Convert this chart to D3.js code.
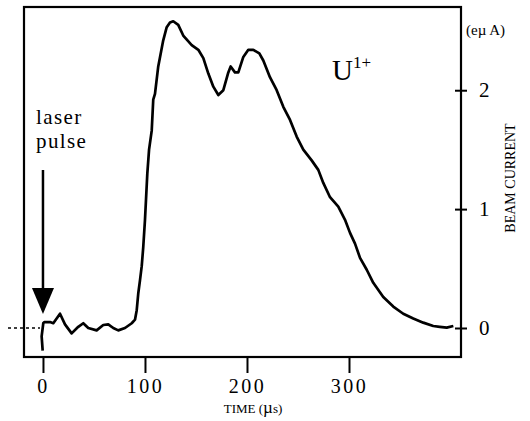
<!DOCTYPE html>
<meta charset="utf-8">
<script src="https://cdn.jsdelivr.net/npm/d3@7"></script>
<style>
body { margin: 0; background: #fff; }
</style>
<svg class="chart" width="530" height="421" font-family="Liberation Serif"></svg>
<script>

// beam current trace
var timeUs = [-0.3, -1.3, 0.3, 1.3, 6.9, 10.1, 16.7, 21.6, 28.1, 34.6, 39.5, 44.4, 52.6, 59.1, 64, 68.9, 73.8, 80.4, 87, 90.2, 91.9, 93.4, 95.1, 96.8, 98.3, 100, 101, 102.3, 104, 106.6, 108.1, 109.8, 113, 117.9, 121.3, 124.5, 127.7, 132.6, 137.5, 145.8, 152.3, 157.2, 162.1, 167, 171.9, 176.8, 181.7, 184, 188.2, 191.5, 196.4, 201.3, 206.2, 212.1, 216, 222.5, 229.1, 235.6, 242.2, 248.7, 255.2, 263.4, 269.9, 274.8, 281.4, 289.5, 296.1, 301, 305.9, 310.8, 317.4, 323.8, 333.6, 343.4, 353.2, 363, 372.8, 382.6, 389, 395.8, 402.3];
var currentEuA = [-0.19, -0.07, 0.04, 0.05, 0.05, 0.04, 0.12, 0.03, -0.045, 0.01, 0.04, 0.0, -0.02, 0.025, 0.03, 0.0, -0.02, 0.0, 0.04, 0.07, 0.15, 0.29, 0.40, 0.52, 0.68, 0.91, 1.08, 1.30, 1.50, 1.66, 1.92, 1.97, 2.20, 2.42, 2.53, 2.57, 2.58, 2.55, 2.46, 2.38, 2.34, 2.27, 2.14, 2.03, 1.96, 2.0, 2.15, 2.20, 2.15, 2.15, 2.28, 2.34, 2.34, 2.31, 2.25, 2.11, 2.0, 1.86, 1.75, 1.61, 1.50, 1.41, 1.33, 1.22, 1.10, 1.02, 0.91, 0.80, 0.71, 0.59, 0.49, 0.38, 0.26, 0.18, 0.12, 0.08, 0.045, 0.017, 0.01, 0.003, 0.017];

var timeTicks = [0, 100, 200, 300];
var currentTicks = [0, 1, 2];
var laserTime = 0;

var serif = "Liberation Serif";
var svg = d3.select(".chart");

var x = d3.scaleLinear().domain([-18.6, 409.8]).range([24, 461]);
var y = d3.scaleLinear().domain([-0.244, 2.70]).range([357, 7]);

// frame
svg.append("rect")
  .attr("x", x.range()[0]).attr("y", y.range()[1])
  .attr("width", x.range()[1] - x.range()[0])
  .attr("height", y.range()[0] - y.range()[1])
  .attr("fill", "none").attr("stroke", "#000").attr("stroke-width", 2.2);

// bottom axis
var xAxis = svg.append("g")
  .attr("transform", "translate(0," + y.range()[0] + ")")
  .call(d3.axisBottom(x).tickValues(timeTicks).tickFormat(d3.format("d")).tickSize(16).tickSizeOuter(0).tickPadding(6));
xAxis.attr("font-family", serif);
xAxis.select(".domain").remove();
xAxis.selectAll("line").attr("stroke", "#000").attr("stroke-width", 2);
xAxis.selectAll("text")
  .attr("font-family", serif)
  .attr("font-size", 20).attr("letter-spacing", 2.5).attr("fill", "#000");

// right axis, ticks crossing the frame line
var yAxis = svg.append("g")
  .attr("transform", "translate(" + x.range()[1] + ",0)")
  .call(d3.axisRight(y).tickValues(currentTicks).tickFormat(d3.format("d")).tickSize(6).tickSizeOuter(0).tickPadding(12));
yAxis.attr("font-family", serif);
yAxis.select(".domain").remove();
yAxis.selectAll("line").attr("x1", -6).attr("stroke", "#000").attr("stroke-width", 2);
yAxis.selectAll("text")
  .attr("font-family", serif)
  .attr("font-size", 21).attr("fill", "#000");

// dotted zero line left of the frame
svg.append("line")
  .attr("x1", 8).attr("x2", x(laserTime) - 3)
  .attr("y1", y(0)).attr("y2", y(0))
  .attr("stroke", "#000").attr("stroke-width", 1.5)
  .attr("stroke-dasharray", "3,3");

// trace
var line = d3.line()
  .x(function(d, i) { return x(timeUs[i]); })
  .y(function(d) { return y(d); });

svg.append("path")
  .datum(currentEuA)
  .attr("d", line)
  .attr("fill", "none")
  .attr("stroke", "#000")
  .attr("stroke-width", 2.7)
  .attr("stroke-linejoin", "round");

// laser pulse arrow
var ax = x(laserTime);
svg.append("line")
  .attr("x1", ax).attr("x2", ax).attr("y1", 170).attr("y2", 292)
  .attr("stroke", "#000").attr("stroke-width", 2.5);
svg.append("path")
  .attr("d", "M" + (ax - 11) + ",288 L" + (ax + 11) + ",288 L" + ax + ",314 Z")
  .attr("fill", "#000");

function label(xp, yp, size, str) {
  return svg.append("text")
    .attr("x", xp).attr("y", yp)
    .attr("font-family", serif)
    .attr("font-size", size)
    .text(str);
}

label(36, 124, 21, "laser").attr("letter-spacing", 1.4);
label(36, 148, 21, "pulse").attr("letter-spacing", 1.4);

// ion label
var ion = label(332, 80, 29, null);
ion.append("tspan").text("U");
ion.append("tspan").attr("font-size", 17).attr("dy", -12).text("1+");

// axis titles
label(466, 35, 15, "(eµ A)");

label(0, 0, 14, "BEAM CURRENT")
  .attr("x", null).attr("y", null)
  .attr("text-anchor", "middle")
  .attr("transform", "translate(515,178) rotate(-90)");

var tl = label(253, 413, 13, null).attr("text-anchor", "middle");
tl.append("tspan").text("TIME  (");
tl.append("tspan").attr("font-size", 17).text("µ");
tl.append("tspan").text("s)");

</script>
